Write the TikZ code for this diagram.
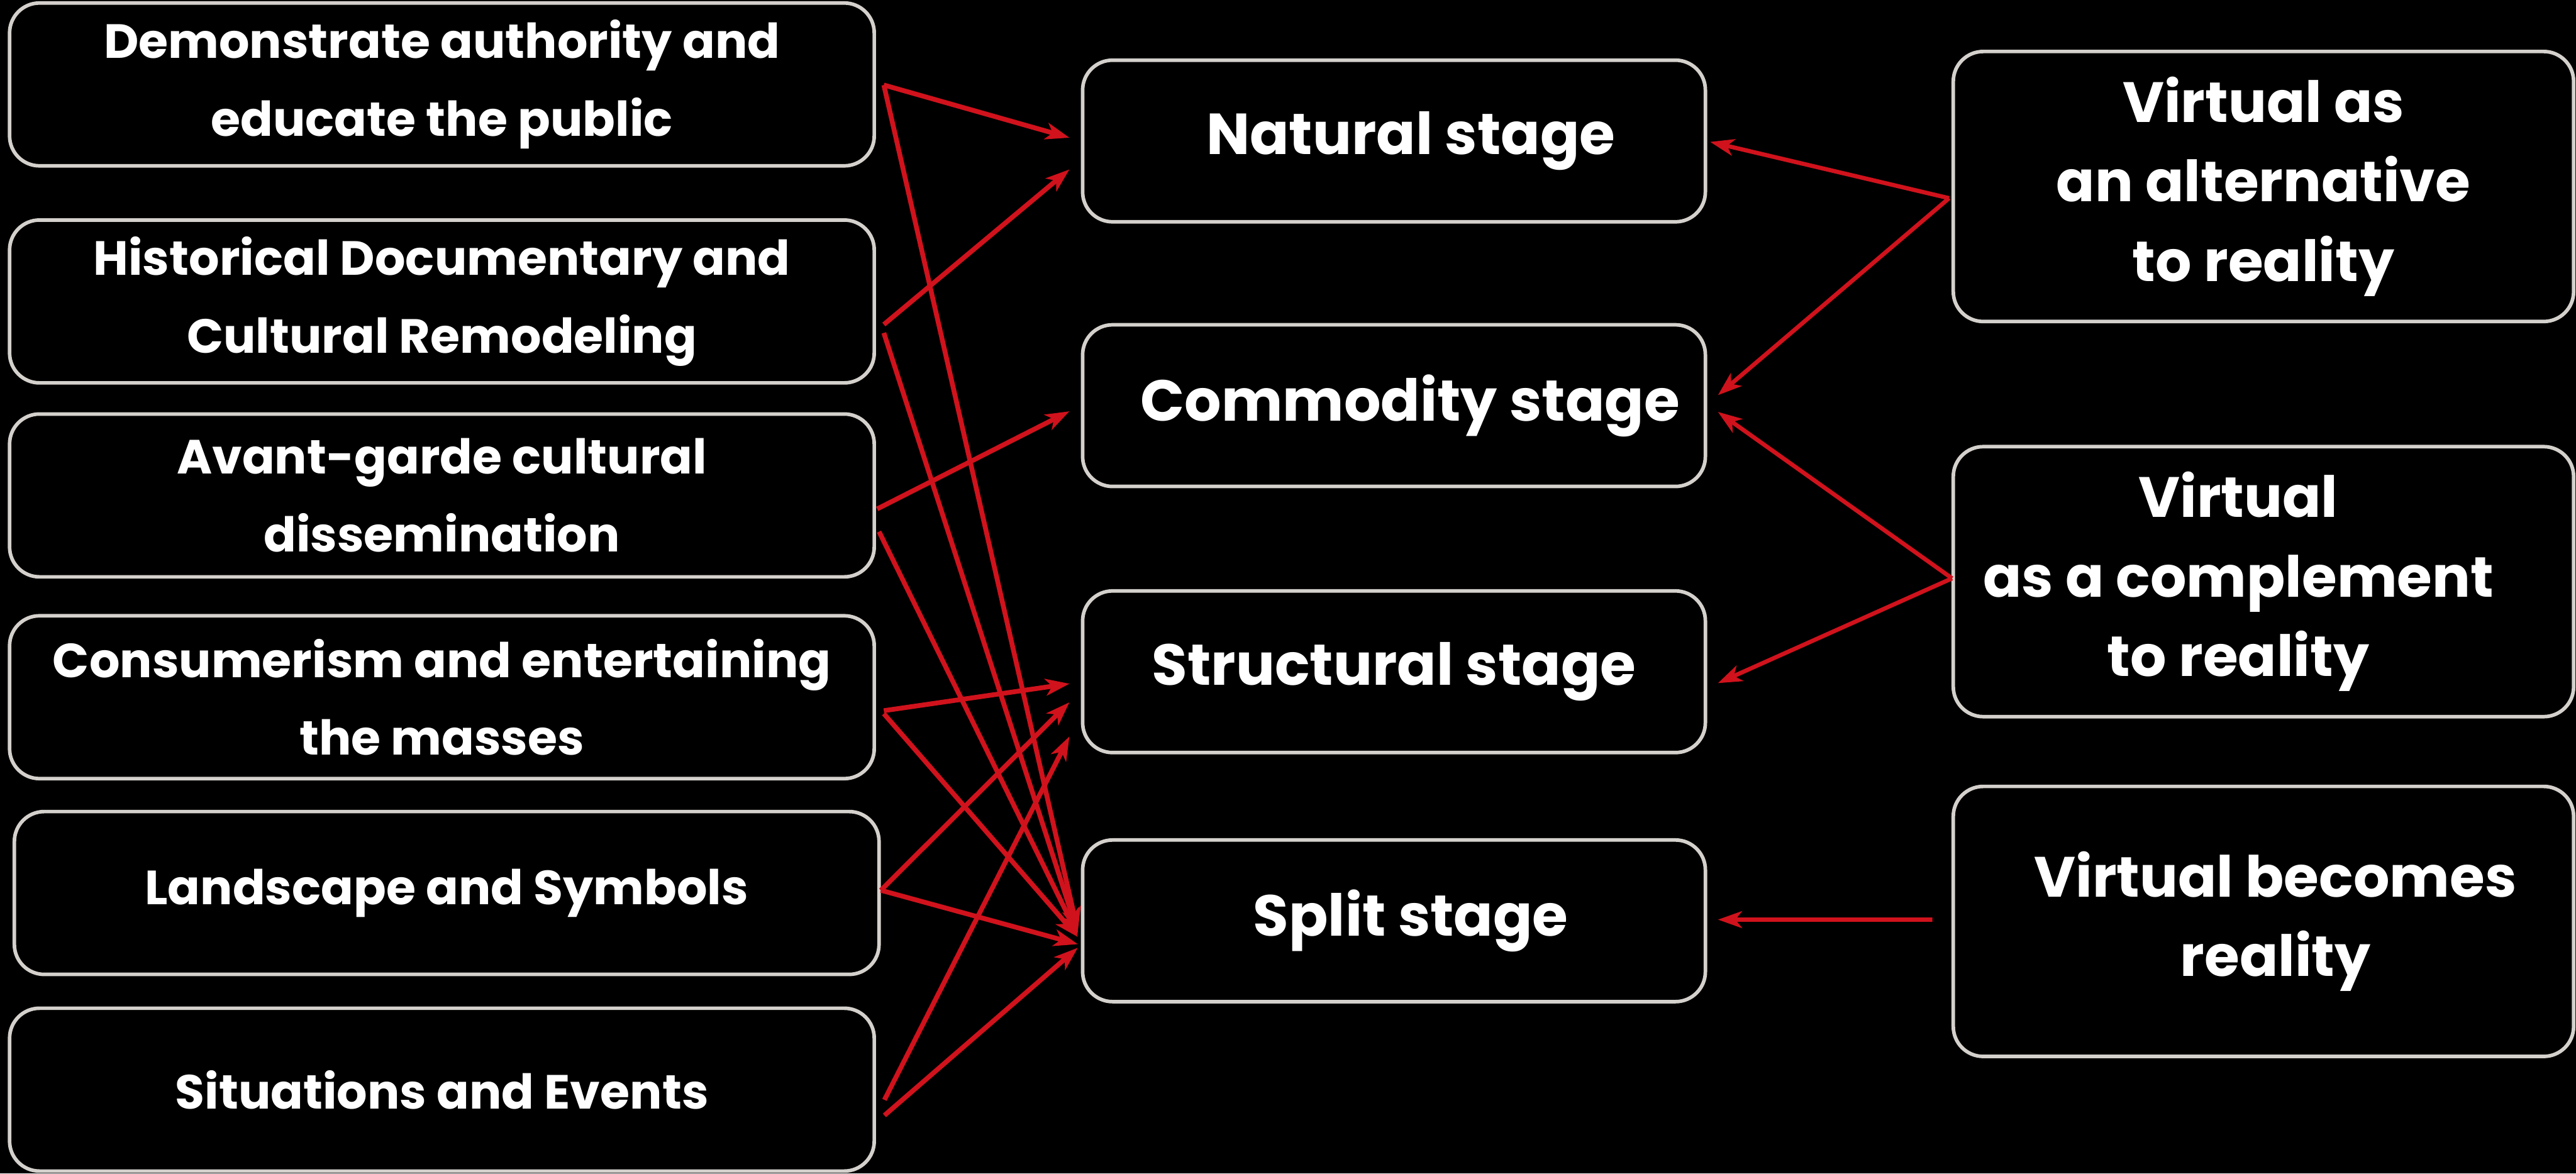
\documentclass[tikz,border=0pt]{standalone}
\usepackage{fontspec}
\setmainfont{Poppins}
\usepackage{tikz}
\usetikzlibrary{arrows.meta}
\definecolor{boxline}{HTML}{D4D0CC}
\definecolor{linkred}{HTML}{D0121C}
\tikzset{
  stagebox/.style = {draw=boxline, line width=0.06cm, rounded corners=0.5cm,
                     fill=black, text=white, align=center},
  leftbox/.style  = {stagebox, minimum width=14.44cm, minimum height=2.72cm,
                     font=\bfseries\fontsize{22.8}{37}\selectfont},
  midbox/.style   = {stagebox, minimum width=10.40cm, minimum height=2.70cm,
                     font=\bfseries\fontsize{27.5}{36}\selectfont},
  rightbox/.style = {stagebox, minimum width=10.36cm, minimum height=4.51cm,
                     font=\bfseries\fontsize{27}{37.8}\selectfont},
  link/.style     = {-{Stealth[length=4mm,width=2.8mm,inset=1.1mm]}, linkred,
                     line width=0.08cm},
  backlink/.style = {link, line width=0.07cm}
}

\begin{document}
\begin{tikzpicture}
  \fill[black] (0,0) rectangle (43.02,-19.60);
  \useasboundingbox (0,0) rectangle (43.02,-19.60);
  % functions
  \node[leftbox] (demo)   at (7.38,-1.41)   {Demonstrate authority and\\educate the public};
  \node[leftbox] (hist)   at (7.38,-5.035)  {Historical Documentary and\\Cultural Remodeling};
  \node[leftbox] (avant)  at (7.38,-8.275)  {Avant-garde cultural\\dissemination};
  \node[leftbox] (consum) at (7.38,-11.645) {Consumerism and entertaining\\the masses};
  \node[leftbox] (landsc) at (7.46,-14.915) {Landscape and Symbols};
  \node[leftbox] (situ)   at (7.38,-18.20)  {Situations and Events};
  % stages
  \node[midbox] (natural)    at (23.28,-2.355)  {\hspace*{0.56cm}Natural stage};
  \node[midbox] (commodity)  at (23.28,-6.775)  {\hspace*{0.54cm}Commodity stage};
  \node[midbox] (structural) at (23.28,-11.22)  {Structural stage};
  \node[midbox] (split)      at (23.28,-15.38)  {\hspace*{0.56cm}Split stage};
  % virtual vs. reality
  \node[rightbox] (alternative) at (37.80,-3.115) {Virtual as\\an alternative\\to reality};
  \node[rightbox] (complement)  at (37.80,-9.715)
        {\hspace*{-0.84cm}Virtual\\\hspace*{-0.84cm}as a complement\\\hspace*{-0.84cm}to reality};
  \node[rightbox] (becomes)     at (37.80,-15.39) {\hspace*{0.4cm}Virtual becomes\\\hspace*{0.4cm}reality};

  \foreach \src/\sx/\sy/\dst/\dx/\dy in {
      demo/0.13/-0.01/natural/-0.19/0.055,      demo/0.13/-0.01/split/-0.05/-0.17,
      hist/0.13/-0.385/natural/-0.19/-0.475,    hist/0.13/-0.525/split/-0.05/-0.20,
      avant/0.02/-0.225/commodity/-0.19/-0.095, avant/0.05/-0.605/split/-0.05/-0.24,
      consum/0.13/-0.225/structural/-0.19/-0.20, consum/0.13/-0.275/split/-0.05/-0.27,
      landsc/0/0.045/structural/-0.19/-0.51,    landsc/0/0.045/split/-0.05/-0.39,
      situ/0.14/-0.17/structural/-0.19/-1.08,   situ/0.14/-0.43/split/-0.05/-0.45}
    \draw[link] ([shift={(\sx,\sy)}]\src.east) -- ([shift={(\dx,\dy)}]\dst.west);

  \foreach \src/\sx/\sy/\dst/\dx/\dy in {
      alternative/-0.04/-0.195/natural/0.05/-0.015, alternative/-0.04/-0.195/commodity/0.18/0.175,
      complement/0.01/0.055/commodity/0.18/-0.105,  complement/0.01/0.055/structural/0.18/-0.19,
      becomes/-0.32/0.03/split/0.18/0.02}
    \draw[backlink] ([shift={(\sx,\sy)}]\src.west) -- ([shift={(\dx,\dy)}]\dst.east);
\end{tikzpicture}
\end{document}
